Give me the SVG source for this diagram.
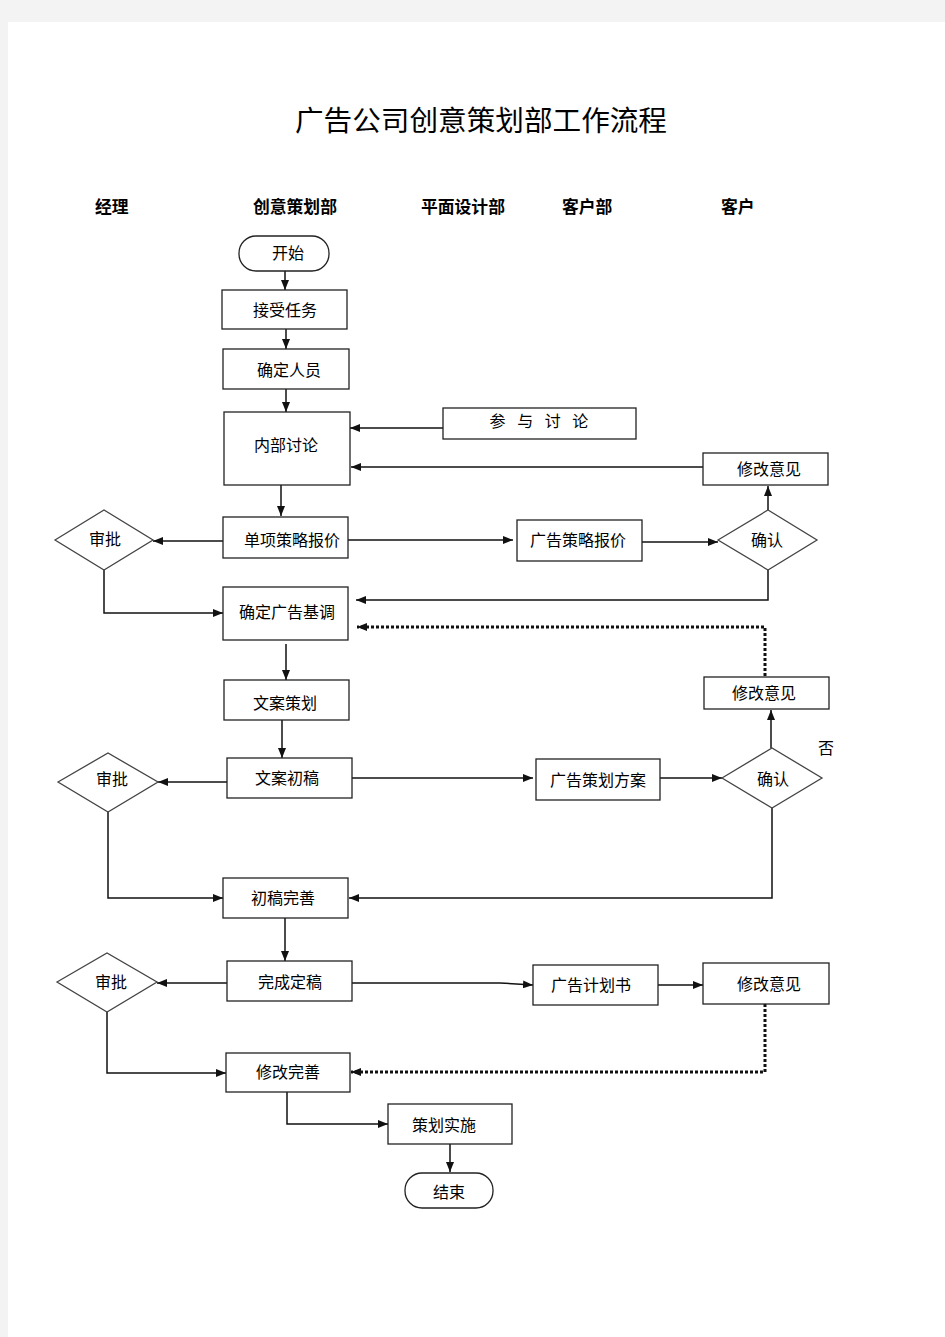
<svg xmlns="http://www.w3.org/2000/svg" width="945" height="1337" viewBox="0 0 945 1337">
<style>
.box{fill:#fff;stroke:#222;stroke-width:1.3}
.dia{fill:#fff;stroke:#444;stroke-width:1.3}
.t{font-family:"Noto Sans CJK SC","Liberation Sans",sans-serif;font-size:16px;fill:#000;text-anchor:middle}
.h{font-family:"Noto Sans CJK SC","Liberation Sans",sans-serif;font-size:16.8px;font-weight:bold;fill:#000}
.c{fill:none;stroke:#111;stroke-width:1.5}
.d{fill:none;stroke:#111;stroke-width:3;stroke-dasharray:3 2}
</style>
<defs>
<marker id="a" viewBox="0 0 10 8" refX="10" refY="4" markerWidth="10" markerHeight="8" markerUnits="userSpaceOnUse" orient="auto"><path d="M0,0L10,4L0,8Z" fill="#111"/></marker>
<marker id="ad" viewBox="0 0 10 8" refX="10" refY="4" markerWidth="10" markerHeight="8" markerUnits="userSpaceOnUse" orient="auto"><path d="M0,0L10,4L0,8Z" fill="#111"/></marker>
</defs>
<rect x="0" y="0" width="945" height="1337" fill="#f3f3f3"/>
<rect x="8" y="22" width="937" height="1315" fill="#fff"/>
<text x="481" y="131" font-family="'Noto Sans CJK SC',serif" font-size="28" text-anchor="middle" textLength="372" lengthAdjust="spacingAndGlyphs">广告公司创意策划部工作流程</text>
<g id="lanes">
<text class="h" x="95" y="213">经理</text>
<text class="h" x="253" y="213">创意策划部</text>
<text class="h" x="421" y="213">平面设计部</text>
<text class="h" x="562" y="213">客户部</text>
<text class="h" x="721" y="213">客户</text>
</g>
<g id="connectors">
<path class="c" d="M285,271V290" marker-end="url(#a)"/>
<path class="c" d="M286,329V349" marker-end="url(#a)"/>
<path class="c" d="M286,389V412" marker-end="url(#a)"/>
<path class="c" d="M281,485V516" marker-end="url(#a)"/>
<path class="c" d="M443,428H350" marker-end="url(#a)"/>
<path class="c" d="M703,467H351" marker-end="url(#a)"/>
<path class="c" d="M348,540H513" marker-end="url(#a)"/>
<path class="c" d="M642,542H718" marker-end="url(#a)"/>
<path class="c" d="M768,510V486" marker-end="url(#a)"/>
<path class="c" d="M768,570V600H356" marker-end="url(#a)"/>
<path class="c" d="M223,541H153" marker-end="url(#a)"/>
<path class="c" d="M104,570V613H223" marker-end="url(#a)"/>
<path class="d" d="M765,676V627H357" marker-end="url(#ad)"/>
<path class="c" d="M286,644V680" marker-end="url(#a)"/>
<path class="c" d="M282,720V758" marker-end="url(#a)"/>
<path class="c" d="M227,782H158" marker-end="url(#a)"/>
<path class="c" d="M352,778H533" marker-end="url(#a)"/>
<path class="c" d="M660,778H722" marker-end="url(#a)"/>
<path class="c" d="M771,748V710" marker-end="url(#a)"/>
<path class="c" d="M772,808V898H349" marker-end="url(#a)"/>
<path class="c" d="M108,812V898H223" marker-end="url(#a)"/>
<path class="c" d="M285,918V961" marker-end="url(#a)"/>
<path class="c" d="M227,983H157" marker-end="url(#a)"/>
<path class="c" d="M352,983H500L533,985" marker-end="url(#a)"/>
<path class="c" d="M658,985H703" marker-end="url(#a)"/>
<path class="d" d="M765,1004V1072H351" marker-end="url(#ad)"/>
<path class="c" d="M107,1012V1073H226" marker-end="url(#a)"/>
<path class="c" d="M287,1092V1124H388" marker-end="url(#a)"/>
<path class="c" d="M450,1144V1172" marker-end="url(#a)"/>
</g>
<g id="n-start"><rect class="box" x="239" y="236" width="90" height="35" rx="17"/><text class="t" x="288" y="259">开始</text></g>
<g id="n-accept"><rect class="box" x="222" y="290" width="125" height="39"/><text class="t" x="285" y="316">接受任务</text></g>
<g id="n-staff"><rect class="box" x="223" y="349" width="126" height="40"/><text class="t" x="289" y="376">确定人员</text></g>
<g id="n-discuss"><rect class="box" x="224" y="412" width="126" height="73"/><text class="t" x="286" y="451">内部讨论</text></g>
<g id="n-join"><rect class="box" x="443" y="408" width="193" height="31"/><text class="t" x="541" y="427" letter-spacing="4" xml:space="preserve">参 与 讨 论</text></g>
<g id="n-rev1"><rect class="box" x="703" y="453" width="125" height="32"/><text class="t" x="769" y="475">修改意见</text></g>
<g id="n-quote"><rect class="box" x="223" y="517" width="125" height="41"/><text class="t" x="292" y="546">单项策略报价</text></g>
<g id="n-adquote"><rect class="box" x="517" y="520" width="125" height="41"/><text class="t" x="578" y="546">广告策略报价</text></g>
<g id="n-conf1"><polygon class="dia" points="718,540 768,510 817,540 768,570"/><text class="t" x="767" y="546">确认</text></g>
<g id="n-appr1"><polygon class="dia" points="55,540 104,510 153,540 104,570"/><text class="t" x="105" y="545">审批</text></g>
<g id="n-tone"><rect class="box" x="223" y="587" width="125" height="53"/><text class="t" x="287" y="618">确定广告基调</text></g>
<g id="n-copyplan"><rect class="box" x="224" y="680" width="125" height="40"/><text class="t" x="285" y="709">文案策划</text></g>
<g id="n-rev2"><rect class="box" x="704" y="677" width="125" height="32"/><text class="t" x="764" y="699">修改意见</text></g>
<text class="t" x="826" y="754">否</text>
<g id="n-draft"><rect class="box" x="227" y="758" width="125" height="40"/><text class="t" x="287" y="784">文案初稿</text></g>
<g id="n-adplan"><rect class="box" x="536" y="759" width="124" height="41"/><text class="t" x="598" y="786">广告策划方案</text></g>
<g id="n-conf2"><polygon class="dia" points="722,778 772,748 822,778 772,808"/><text class="t" x="773" y="785">确认</text></g>
<g id="n-appr2"><polygon class="dia" points="58,782 108,753 158,782 108,812"/><text class="t" x="112" y="785">审批</text></g>
<g id="n-refine"><rect class="box" x="223" y="878" width="125" height="40"/><text class="t" x="283" y="904">初稿完善</text></g>
<g id="n-final"><rect class="box" x="227" y="961" width="125" height="40"/><text class="t" x="290" y="988">完成定稿</text></g>
<g id="n-book"><rect class="box" x="533" y="965" width="125" height="40"/><text class="t" x="591" y="991">广告计划书</text></g>
<g id="n-rev3"><rect class="box" x="703" y="963" width="126" height="41"/><text class="t" x="769" y="990">修改意见</text></g>
<g id="n-appr3"><polygon class="dia" points="57,982 107,953 157,982 107,1012"/><text class="t" x="111" y="988">审批</text></g>
<g id="n-fix"><rect class="box" x="226" y="1053" width="124" height="39"/><text class="t" x="288" y="1078">修改完善</text></g>
<g id="n-exec"><rect class="box" x="388" y="1104" width="124" height="40"/><text class="t" x="444" y="1131">策划实施</text></g>
<g id="n-end"><rect class="box" x="405" y="1173" width="88" height="35" rx="17"/><text class="t" x="449" y="1198">结束</text></g>
</svg>
